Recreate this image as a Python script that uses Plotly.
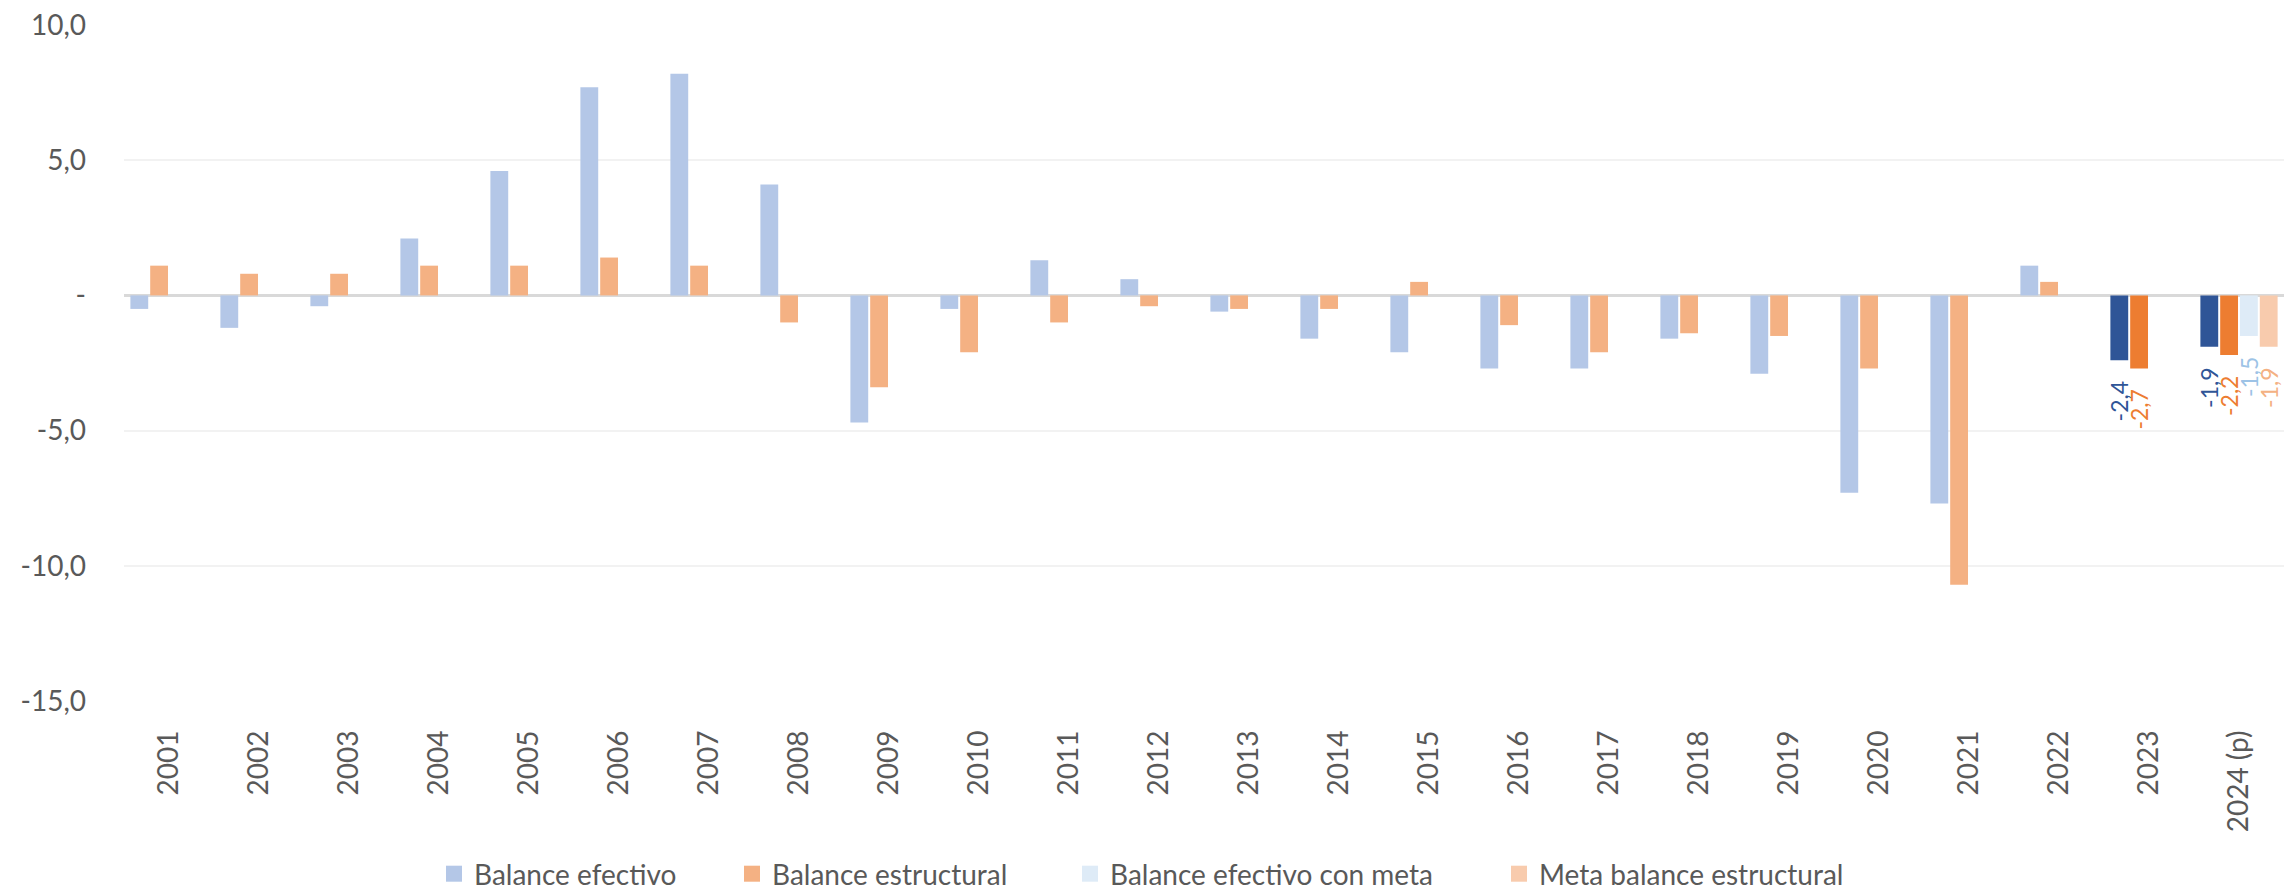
import plotly.graph_objects as go

years = ["2001", "2002", "2003", "2004", "2005", "2006", "2007", "2008", "2009", "2010",
         "2011", "2012", "2013", "2014", "2015", "2016", "2017", "2018", "2019", "2020",
         "2021", "2022", "2023", "2024 (p)"]

balance_efectivo = [-0.5, -1.2, -0.4, 2.1, 4.6, 7.7, 8.2, 4.1, -4.7, -0.5,
                    1.3, 0.6, -0.6, -1.6, -2.1, -2.7, -2.7, -1.6, -2.9, -7.3,
                    -7.7, 1.1, -2.4, -1.9]
balance_estructural = [1.1, 0.8, 0.8, 1.1, 1.1, 1.4, 1.1, -1.0, -3.4, -2.1,
                       -1.0, -0.4, -0.5, -0.5, 0.5, -1.1, -2.1, -1.4, -1.5, -2.7,
                       -10.7, 0.5, -2.7, -2.2]
balance_efectivo_meta = [None] * 23 + [-1.5]
meta_balance_estructural = [None] * 23 + [-1.9]

labeled_years = ["2023", "2024 (p)"]

series_names = ["Balance efectivo", "Balance estructural",
                "Balance efectivo con meta", "Meta balance estructural"]

y_tickvals = [10, 5, 0, -5, -10, -15]
y_ticktext = ["10,0", "5,0", "-", "-5,0", "-10,0", "-15,0"]

LIGHT_BLUE = "#B4C7E7"
DARK_BLUE = "#2F5597"
LIGHT_ORANGE = "#F4B183"
DARK_ORANGE = "#ED7D31"
PALE_BLUE = "#DEEBF7"
PALE_ORANGE = "#F8CBAD"
META_BLUE_TXT = "#9DC3E6"
META_ORANGE_TXT = "#F4B183"
TEXT_GRAY = "#595959"
FONT = "Lato, 'Open Sans', sans-serif"
PAD = "\u00a0\u00a0\u00a0"


def fmt(v):
    return ("%.1f" % v).replace(".", ",")


def labels(values):
    return [fmt(v) + PAD if (y in labeled_years and v is not None) else ""
            for y, v in zip(years, values)]


def colors(light, dark):
    return [dark if y in labeled_years else light for y in years]


fig = go.Figure()

specs = [
    (balance_efectivo, colors(LIGHT_BLUE, DARK_BLUE), DARK_BLUE),
    (balance_estructural, colors(LIGHT_ORANGE, DARK_ORANGE), DARK_ORANGE),
    (balance_efectivo_meta, PALE_BLUE, META_BLUE_TXT),
    (meta_balance_estructural, PALE_ORANGE, META_ORANGE_TXT),
]

for name, (vals, col, txtcol) in zip(series_names, specs):
    fig.add_trace(go.Bar(
        x=years, y=vals, name=name, marker=dict(color=col, line=dict(width=0)),
        text=labels(vals), textposition="outside", textangle=-90,
        constraintext="none", cliponaxis=False,
        textfont=dict(family=FONT, size=23, color=txtcol),
        showlegend=False, hoverinfo="x+y",
    ))

legend_swatch = [LIGHT_BLUE, LIGHT_ORANGE, PALE_BLUE, PALE_ORANGE]
legend_keys = ["legend", "legend2", "legend3", "legend4"]
for name, col, lk in zip(series_names, legend_swatch, legend_keys):
    fig.add_trace(go.Scatter(
        x=[None], y=[None], mode="markers", name=name, legend=lk,
        marker=dict(symbol="square", size=17, color=col, line=dict(width=0)),
        showlegend=True,
    ))

L, R, T, B = 124, 0, 25, 189
W, H = 2284, 890
pw = W - L - R
ph = H - T - B


def px_to_paper_x(px):
    return (px - L) / pw


def py_to_paper_y(py):
    return (H - B - py) / ph


legend_left_px = [434, 732, 1070, 1499]
legend_common = dict(orientation="h", yanchor="middle", xanchor="left",
                     font=dict(family=FONT, size=28, color=TEXT_GRAY),
                     bgcolor="rgba(0,0,0,0)", borderwidth=0)
legend_layout = {}
for lk, lx in zip(legend_keys, legend_left_px):
    legend_layout[lk] = dict(x=px_to_paper_x(lx), y=py_to_paper_y(874), **legend_common)

fig.update_layout(
    width=W, height=H,
    margin=dict(l=L, r=R, t=T, b=B, autoexpand=False),
    paper_bgcolor="white", plot_bgcolor="white",
    barmode="group", bargap=0.12, bargroupgap=0.1,
    font=dict(family=FONT, color=TEXT_GRAY),
    **legend_layout,
)

fig.update_xaxes(
    type="category", categoryorder="array", categoryarray=years,
    tickangle=-90, tickfont=dict(family=FONT, size=28, color=TEXT_GRAY),
    showgrid=False, showline=False, ticks="", ticklabelstandoff=23,
)

fig.update_yaxes(
    range=[-15, 10], tickvals=y_tickvals, ticktext=y_ticktext,
    tickfont=dict(family=FONT, size=28, color=TEXT_GRAY),
    showgrid=True, gridcolor="#F2F2F2", gridwidth=2,
    zeroline=True, zerolinecolor="#D9D9D9", zerolinewidth=2.5,
    showline=False, ticks="", ticklabelstandoff=37,
)

fig.write_html(
    "out.html",
    config={"displayModeBar": False},
    post_script="document.body.style.margin='0';document.body.style.overflow='hidden';",
)
